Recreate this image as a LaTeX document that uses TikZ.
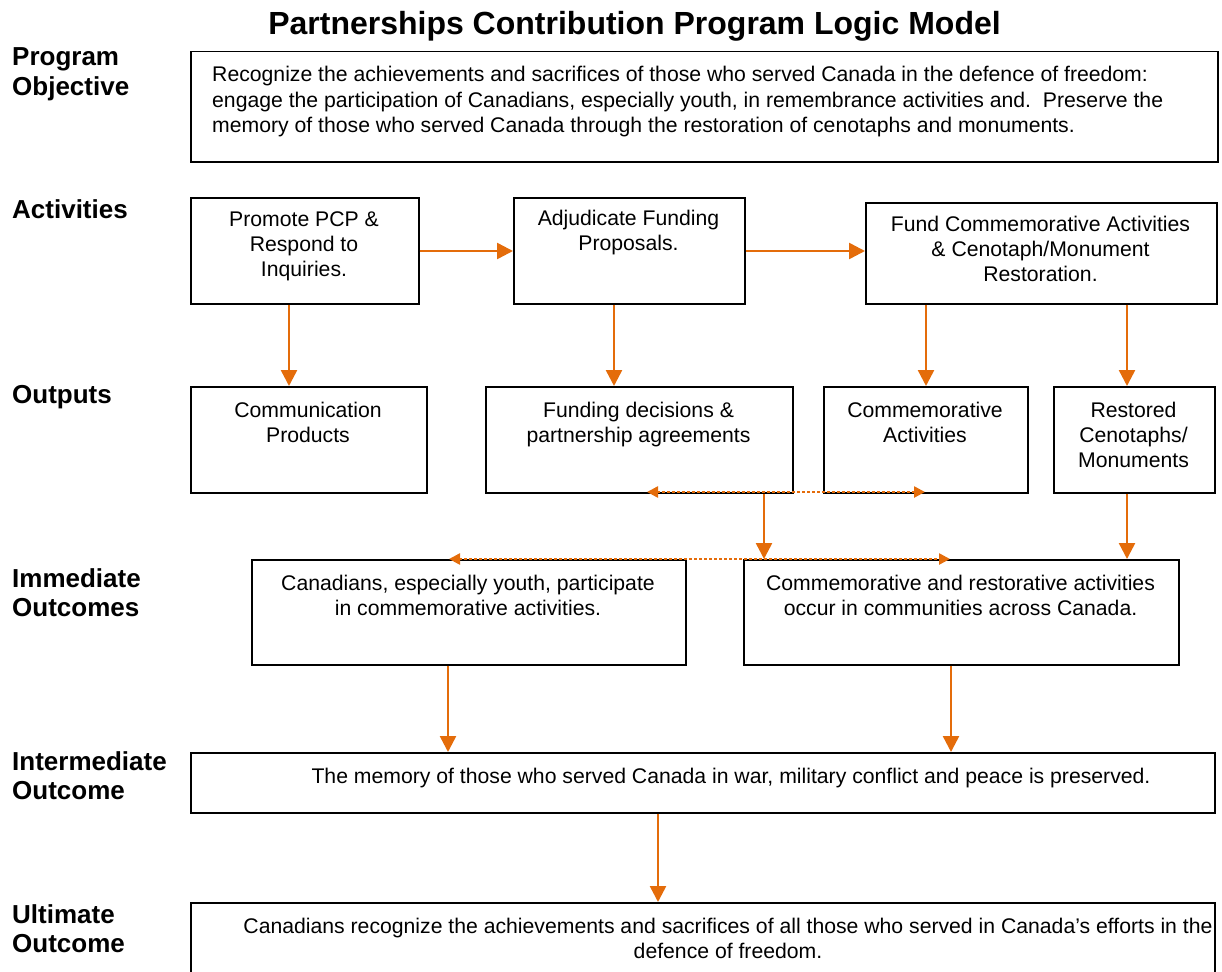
\documentclass[tikz,border=0pt]{standalone}
\usepackage{fontspec}
\setmainfont{Liberation Sans}
\usetikzlibrary{arrows.meta}
\definecolor{arrorange}{RGB}{228,108,10}
\tikzset{
  box/.style={draw=black, line width=1.5pt, inner sep=0pt, anchor=north west},
  arr/.style={draw=arrorange, line width=2.5pt, -{Triangle[length=16pt,width=16pt]}},
  dotarr/.style={draw=arrorange, line width=2.5pt, dash pattern=on 2.5pt off 2.5pt,
     {Triangle[length=11pt,width=11pt]}-{Triangle[length=11pt,width=11pt]}},
  txt/.style={inner sep=0pt, anchor=base},
  lbl/.style={inner sep=0pt, anchor=base west, font=\fontsize{26}{29.5}\selectfont\bfseries},
}
\newcommand{\bt}[1]{\parbox[t]{1100pt}{\centering\fontsize{21.2}{25}\selectfont #1}}
\begin{document}
\begin{tikzpicture}[x=1pt,y=-1pt]
\useasboundingbox (0,0) rectangle (1222,971);

% title
\node[txt, font=\fontsize{32}{37}\selectfont\bfseries] (title) at (634.5,35) {Partnerships Contribution Program Logic Model};

% row labels
\node[lbl] (lobj) at (12,66) {\parbox[t]{200pt}{Program\\Objective}};
\node[lbl] (lact) at (12,218) {Activities};
\node[lbl] (lout) at (12,403) {Outputs};
\node[lbl] (limm) at (12,587) {\parbox[t]{200pt}{Immediate\\Outcomes}};
\node[lbl] (lint) at (12,770) {\parbox[t]{200pt}{Intermediate\\Outcome}};
\node[lbl] (lult) at (12,923) {\parbox[t]{200pt}{Ultimate\\Outcome}};

% boxes
\node[box, minimum width=1027, minimum height=110] (obj) at (190,51) {};
\node[box, minimum width=228, minimum height=106] (a1) at (190,197) {};
\node[box, minimum width=231, minimum height=106] (a2) at (513,197) {};
\node[box, minimum width=351, minimum height=101] (a3) at (865,202) {};
\node[box, minimum width=236, minimum height=106] (o1) at (190,386) {};
\node[box, minimum width=307, minimum height=106] (o2) at (485,386) {};
\node[box, minimum width=204, minimum height=106] (o3) at (823,386) {};
\node[box, minimum width=161, minimum height=106] (o4) at (1053,386) {};
\node[box, minimum width=434, minimum height=105] (i1) at (251,559) {};
\node[box, minimum width=435, minimum height=105] (i2) at (743,559) {};
\node[box, minimum width=1024, minimum height=60] (m) at (190,752) {};
\node[box, minimum width=1024, minimum height=90] (u) at (190,902) {};

% texts
\node[inner sep=0pt, anchor=base west] (tobj) at (212,82) {\parbox[t]{1000pt}{\raggedright\fontsize{21.2}{25.5}\selectfont
Recognize the achievements and sacrifices of those who served Canada in the defence of freedom:\\
engage the participation of Canadians, especially youth, in remembrance activities and.\ \ Preserve the\\
memory of those who served Canada through the restoration of cenotaphs and monuments.}};
\node[txt] (ta1) at (304,226.7) {\bt{Promote PCP \&\\Respond to\\Inquiries.}};
\node[txt] (ta2) at (628.5,225.7) {\bt{Adjudicate Funding\\Proposals.}};
\node[txt] (ta3) at (1040.5,231.7) {\bt{Fund Commemorative Activities\\\& Cenotaph/Monument\\Restoration.}};
\node[txt] (to1) at (308,417) {\bt{Communication\\Products}};
\node[txt] (to2) at (638.5,417) {\bt{Funding decisions \&\\partnership agreements}};
\node[txt] (to3) at (925,417) {\bt{Commemorative\\Activities}};
\node[txt] (to4) at (1133.5,417) {\bt{Restored\\Cenotaphs/\\Monuments}};
\node[txt] (ti1) at (468,590) {\bt{Canadians, especially youth, participate\\in commemorative activities.}};
\node[txt] (ti2) at (960.5,590) {\bt{Commemorative and restorative activities\\occur in communities across Canada.}};
\node[txt] (tm) at (731,783) {\bt{The memory of those who served Canada in war, military conflict and peace is preserved.}};
\begin{scope}
\clip (191,903) rectangle (1213,975);
\node[txt] (tu) at (728,933) {\bt{Canadians recognize the achievements and sacrifices of all those who served in Canada’s efforts in the\\defence of freedom.}};
\end{scope}

% helper coordinates
\coordinate (c289) at (289,0);
\coordinate (c614) at (614,0);
\coordinate (c926) at (926,0);
\coordinate (c1127) at (1127,0);
\coordinate (c764) at (764,0);
\coordinate (c448) at (448,0);
\coordinate (c951) at (951,0);
\coordinate (c658) at (658,0);
\coordinate (r251) at (0,251);
\coordinate (d1l) at (647,492);
\coordinate (d1r) at (925,492);
\coordinate (d2l) at (449,559);
\coordinate (d2r) at (950,559);

% solid arrows
\draw[arr] (a1.east |- r251) -- (a2.west |- r251);
\draw[arr] (a2.east |- r251) -- (a3.west |- r251);
\draw[arr] (a1.south -| c289) -- (o1.north -| c289);
\draw[arr] (a2.south -| c614) -- (o2.north -| c614);
\draw[arr] (a3.south -| c926) -- (o3.north -| c926);
\draw[arr] (a3.south -| c1127) -- (o4.north -| c1127);
\draw[arr] (o4.south -| c1127) -- (i2.north -| c1127);
\draw[arr] (o2.south -| c764) -- (i2.north -| c764);
\draw[arr] (i1.south -| c448) -- (m.north -| c448);
\draw[arr] (i2.south -| c951) -- (m.north -| c951);
\draw[arr] (m.south -| c658) -- (u.north -| c658);

% dotted arrows
\draw[dotarr] (d1l) -- (d1r);
\draw[dotarr] (d2l) -- (d2r);
\end{tikzpicture}
\end{document}
